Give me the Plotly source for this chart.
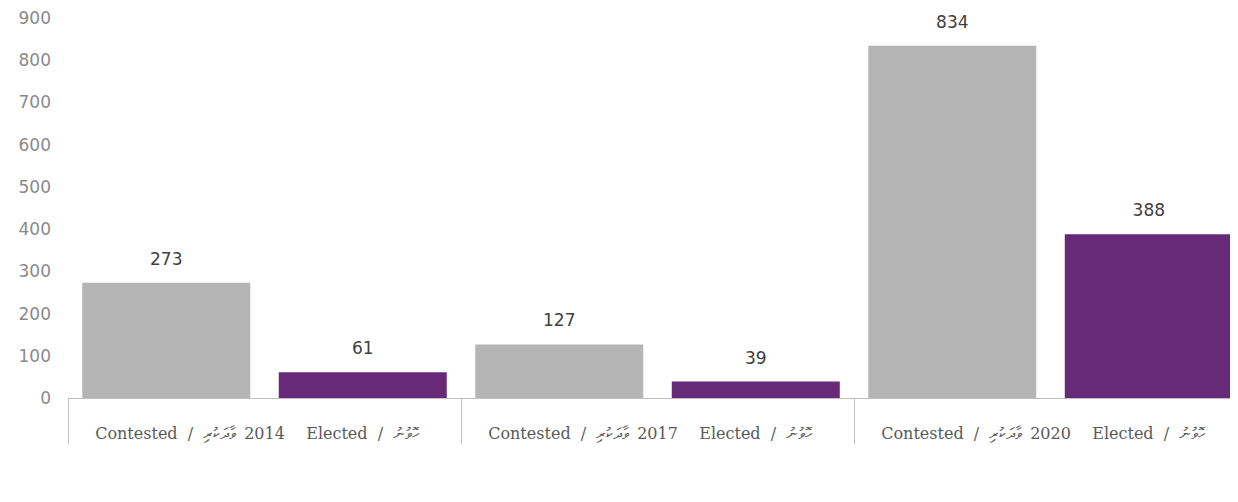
import plotly.graph_objects as go

years = ["2014", "2014", "2017", "2017", "2020", "2020"]
kinds = ["Contested  /  ވާދަކުރި", "Elected  /  ހޮވުނު"] * 3
counts = [273, 61, 127, 39, 834, 388]
bar_colors = ["#b5b5b5", "#662a78"] * 3

# blank line above the inner labels pushes them down, like the original
kind_labels = ["<br>" + k for k in kinds]

fig = go.Figure()
fig.add_trace(go.Bar(
    x=[years, kind_labels],
    y=counts,
    marker=dict(color=bar_colors, line=dict(width=0)),
    texttemplate="<span style='font-size:17px'>%{y}</span><br> ",
    textposition="outside",
    textfont=dict(family="DejaVu Sans", size=10, color="#404040"),
    cliponaxis=False,
    showlegend=False,
))

# page body adds 8px around the figure
fig.update_layout(
    width=1230, height=494,
    margin=dict(l=60, r=0, t=10, b=104),
    plot_bgcolor="white", paper_bgcolor="white",
    bargap=0.145,
)
fig.update_xaxes(
    range=[-0.5, 5.454],
    showline=True, linecolor="#bfbfbf", linewidth=1,
    showdividers=True, dividercolor="#bfbfbf", dividerwidth=1,
    tickfont=dict(family="DejaVu Serif", size=16, color="#595959"),
    showgrid=False, zeroline=False,
)
fig.update_yaxes(
    range=[0, 900], dtick=100,
    showgrid=False, zeroline=False, showline=False,
    tickfont=dict(family="DejaVu Sans", size=17, color="#8a8a8a"),
    ticklabelstandoff=16,
    ticklabeloverflow="allow",
)

fig.write_html("out.html")
